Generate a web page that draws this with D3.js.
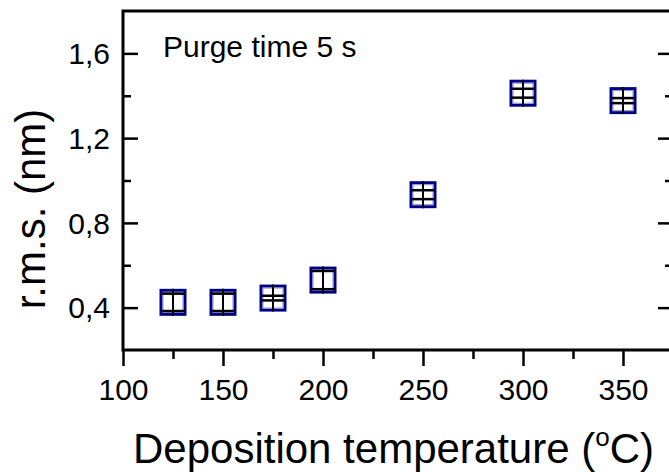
<!DOCTYPE html>
<html><head><meta charset="utf-8">
<script src="https://cdn.jsdelivr.net/npm/d3@7"></script>
<style>
html,body{margin:0;padding:0;background:#fff;overflow:hidden;}
text{font-family:"Liberation Sans",Arial,sans-serif;fill:#000;}
</style></head>
<body><svg id="c" width="669" height="472"></svg>
<script>
const temperatures = [125, 150, 175, 200, 250, 300, 350];
const rmsValues   = [0.425, 0.425, 0.445, 0.53, 0.933, 1.412, 1.377];
const rmsErrors   = [0.041, 0.041, 0.011, 0.043, 0.021, 0.021, 0.012];
const xTicks = [100, 150, 200, 250, 300, 350];
const xMinorTicks = [125, 175, 225, 275, 325];
const yTicks = [0.4, 0.8, 1.2, 1.6];
const yMinorTicks = [0.6, 1.0, 1.4];
const xTitle = "Deposition temperature (";
const yTitle = "r.m.s. (nm)";
const note = "Purge time 5 s";

const svg = d3.select("#c");
const L = 123, R = 673, T = 11, B = 350;
const x = d3.scaleLinear().domain([100, 375]).range([L, R]);
const y = d3.scaleLinear().domain([0.2, 1.8]).range([B, T]);
const fmt = d => d.toFixed(1).replace(".", ",");

// bottom axis (ticks outward)
const gx = svg.append("g").attr("transform", `translate(0,${B})`);
gx.call(d3.axisBottom(x).tickValues(xTicks).tickSize(16).tickPadding(13).tickFormat(d3.format("d")));
gx.append("g").call(d3.axisBottom(x).tickValues(xMinorTicks).tickSize(9).tickFormat(""));
gx.selectAll(".domain").remove();
gx.selectAll("line").attr("stroke", "#000").attr("stroke-width", 2.5);
gx.selectAll("text").attr("font-size", 30).attr("fill", "#000");

// left axis (ticks inward)
const gy = svg.append("g").attr("transform", `translate(${L},0)`);
gy.call(d3.axisRight(y).tickValues(yTicks).tickSize(15).tickFormat(""));
gy.append("g").call(d3.axisRight(y).tickValues(yMinorTicks).tickSize(8).tickFormat(""));
gy.selectAll(".domain").remove();
gy.selectAll("line").attr("stroke", "#000").attr("stroke-width", 2.5);
gy.selectAll("text.lbl").data(yTicks).enter().append("text")
  .attr("x", -13).attr("y", d => y(d)).attr("dy", "0.36em")
  .attr("text-anchor", "end").attr("font-size", 30).text(fmt);

// right axis (ticks inward)
const gr = svg.append("g").attr("transform", `translate(${R},0)`);
gr.call(d3.axisLeft(y).tickValues(yTicks).tickSize(15).tickFormat(""));
gr.append("g").call(d3.axisLeft(y).tickValues(yMinorTicks).tickSize(8).tickFormat(""));
gr.selectAll(".domain").remove();
gr.selectAll("line").attr("stroke", "#000").attr("stroke-width", 2.5);

// frame
svg.append("path")
  .attr("d", `M${L},${B}V${T}H${R}V${B}Z`)
  .attr("fill", "none").attr("stroke", "#000").attr("stroke-width", 3);

// data
const data = temperatures.map((t, i) => ({t, v: rmsValues[i], e: rmsErrors[i]}));
const half = 12, capW = 11.5;
const pts = svg.append("g").selectAll("g").data(data).enter().append("g");
pts.append("rect")
  .attr("x", d => x(d.t) - half).attr("y", d => y(d.v) - half)
  .attr("width", half * 2).attr("height", half * 2)
  .attr("fill", "#fff").attr("stroke", "#000088").attr("stroke-width", 3);
pts.append("rect")
  .attr("x", d => x(d.t) - half + 2).attr("y", d => y(d.v) - half + 2)
  .attr("width", half * 2 - 4).attr("height", half * 2 - 4)
  .attr("fill", "none").attr("stroke", "#8c8cc4").attr("stroke-width", 1);
pts.append("line")
  .attr("x1", d => x(d.t)).attr("x2", d => x(d.t))
  .attr("y1", d => y(d.v) - half - 1.5).attr("y2", d => y(d.v) + half + 1.5)
  .attr("stroke", "#000").attr("stroke-width", 2);
pts.selectAll("line.cap").data(d => [[d, d.v + d.e], [d, d.v - d.e]]).enter().append("line")
  .attr("x1", c => x(c[0].t) - capW).attr("x2", c => x(c[0].t) + capW)
  .attr("y1", c => y(c[1])).attr("y2", c => y(c[1]))
  .attr("stroke", "#000").attr("stroke-width", 2.5);

// note
svg.append("text").attr("x", 163).attr("y", 57).attr("font-size", 30).text(note);

// x title
const xt = svg.append("text").attr("x", 133).attr("y", 463).attr("font-size", 42);
xt.append("tspan").text(xTitle);
xt.append("tspan").attr("font-size", 26).attr("dy", -17).text("o");
xt.append("tspan").attr("dy", 17).text("C)");

// y title
svg.append("text")
  .attr("transform", `translate(45,209) rotate(-90)`)
  .attr("text-anchor", "middle").attr("font-size", 42).text(yTitle);
</script></body></html>
